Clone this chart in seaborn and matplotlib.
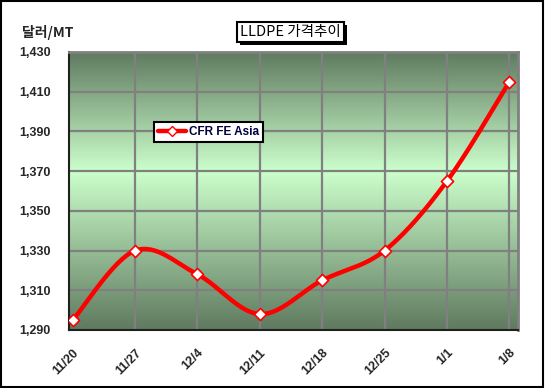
import numpy as np
import pandas as pd
import matplotlib
matplotlib.use("Agg")
import matplotlib.pyplot as plt
import seaborn as sns
from matplotlib.colors import LinearSegmentedColormap

# chart data
weeks = ['11/20', '11/27', '12/4', '12/11', '12/18', '12/25', '1/1', '1/8']
prices = [1295, 1330, 1318, 1298, 1315, 1330, 1365, 1415]
series_name = 'CFR FE Asia'
y_ticks = [1290, 1310, 1330, 1350, 1370, 1390, 1410, 1430]

sns.set_theme(style='white')
plt.rcParams['font.family'] = ['Liberation Sans', 'Noto Sans CJK KR', 'DejaVu Sans']

df = pd.DataFrame({'week': weeks, 'price': prices})
df['pos'] = np.arange(len(df))


# Excel style smoothed line (bezier, tension 1/6), computed in pixel-like space
def smooth_curve(x, y, sx=63.0, sy=278 / 140, n=40):
    px = np.asarray(x, float) * sx
    py = np.asarray(y, float) * sy
    pts = np.column_stack([px, py])
    pts = np.vstack([pts[0], pts, pts[-1]])
    out = []
    for i in range(1, len(pts) - 2):
        p0, p1, p2, p3 = pts[i - 1], pts[i], pts[i + 1], pts[i + 2]
        c1 = p1 + (p2 - p0) / 6
        c2 = p2 - (p3 - p1) / 6
        t = np.linspace(0, 1, n)[:, None]
        seg = ((1 - t) ** 3) * p1 + 3 * ((1 - t) ** 2) * t * c1 + 3 * (1 - t) * t ** 2 * c2 + t ** 3 * p2
        out.append(seg if i == 1 else seg[1:])
    out = np.vstack(out)
    return pd.DataFrame({'x': out[:, 0] / sx, 'y': out[:, 1] / sy})


curve = smooth_curve(df['pos'], df['price'])

fig = plt.figure(figsize=(5.45, 3.88), dpi=100)
ax = fig.add_axes([0.1266, 0.1495, 0.824, 0.7165])

xmin, xmax = -0.06, 7.14
ymin, ymax = 1290, 1430

# gradient background
cmap = LinearSegmentedColormap.from_list(
    'bg', [(0.0, '#5f7a5f'), (0.57, '#ccffcc'), (1.0, '#5f7a5f')])
grad = np.linspace(0, 1, 256)[:, None]
ax.imshow(grad, cmap=cmap, aspect='auto', extent=[xmin, xmax, ymin, ymax],
          origin='lower', zorder=0)

# grid
for yv in y_ticks[1:-1]:
    ax.axhline(yv, color='#808080', lw=1.6, zorder=1)
for xv in df['pos'][1:]:
    ax.axvline(xv, color='#808080', lw=1.6, zorder=1)

sns.lineplot(data=curve, x='x', y='y', color='#ff0000', lw=3.2, sort=False,
             ax=ax, zorder=3)
sns.scatterplot(data=df, x='pos', y='price', marker='D', s=38, color='white',
                edgecolor='#ff0000', linewidth=1.2, ax=ax, zorder=4)

ax.set_xlim(xmin, xmax)
ax.set_ylim(ymin, ymax)
ax.set_xticks(df['pos'])
ax.set_xticklabels(weeks, rotation=45, ha='right', rotation_mode='anchor',
                   fontsize=9, fontweight='bold')
ax.set_yticks(y_ticks)
ax.set_yticklabels([f'{v:,}' for v in y_ticks], fontsize=9, fontweight='bold')
ax.tick_params(axis='x', pad=12, length=3, direction='in', color='black', width=1.5)
ax.tick_params(axis='y', pad=13, length=0)
ax.set_xlabel('')
ax.set_ylabel('')

for side in ['top', 'right']:
    ax.spines[side].set_color('#808080')
    ax.spines[side].set_linewidth(2)
for side in ['left', 'bottom']:
    ax.spines[side].set_color('#202020')
    ax.spines[side].set_linewidth(1.5)

# legend
handle = plt.Line2D([], [], color='#ff0000', lw=3.2, marker='D', markersize=5,
                    markerfacecolor='white', markeredgecolor='#ff0000')
leg = ax.legend([handle], [series_name], loc='upper left',
                bbox_to_anchor=(0.176, 0.77), frameon=True, fancybox=False,
                handlelength=2.4, handletextpad=0.2, borderpad=0.35,
                prop={'size': 8.5, 'weight': 'bold'})
leg.get_frame().set_edgecolor('black')
leg.get_frame().set_linewidth(1.5)
leg.get_frame().set_facecolor('white')
leg.get_frame().set_alpha(1)
for t in leg.get_texts():
    t.set_color('#000040')

# title box
title = fig.text(0.5325, 0.918, 'LLDPE 가격추이', ha='center', va='center',
                 fontsize=10.5, color='black', zorder=5,
                 family=['Noto Sans CJK KR', 'DejaVu Sans'],
                 bbox=dict(boxstyle='square,pad=0.2', fc='white', ec='black', lw=1.5))

fig.text(0.04, 0.915, '달러/MT', ha='left', va='center', fontsize=10,
         fontweight='bold', family=['Noto Sans CJK KR', 'DejaVu Sans'])

# small shadow behind the title box
fig.canvas.draw()
bb = title.get_bbox_patch().get_window_extent()
shadow = plt.Rectangle((bb.x0 + 3, bb.y0 - 3), bb.width, bb.height,
                       transform=None, fc='black', ec='none', zorder=4)
fig.patches.append(shadow)

# outer frame
fig.patches.append(plt.Rectangle((0.002, 0.003), 0.995, 0.994, transform=fig.transFigure,
                                 fill=False, ec='black', lw=1.5))

fig.savefig('out.png', dpi=100)
